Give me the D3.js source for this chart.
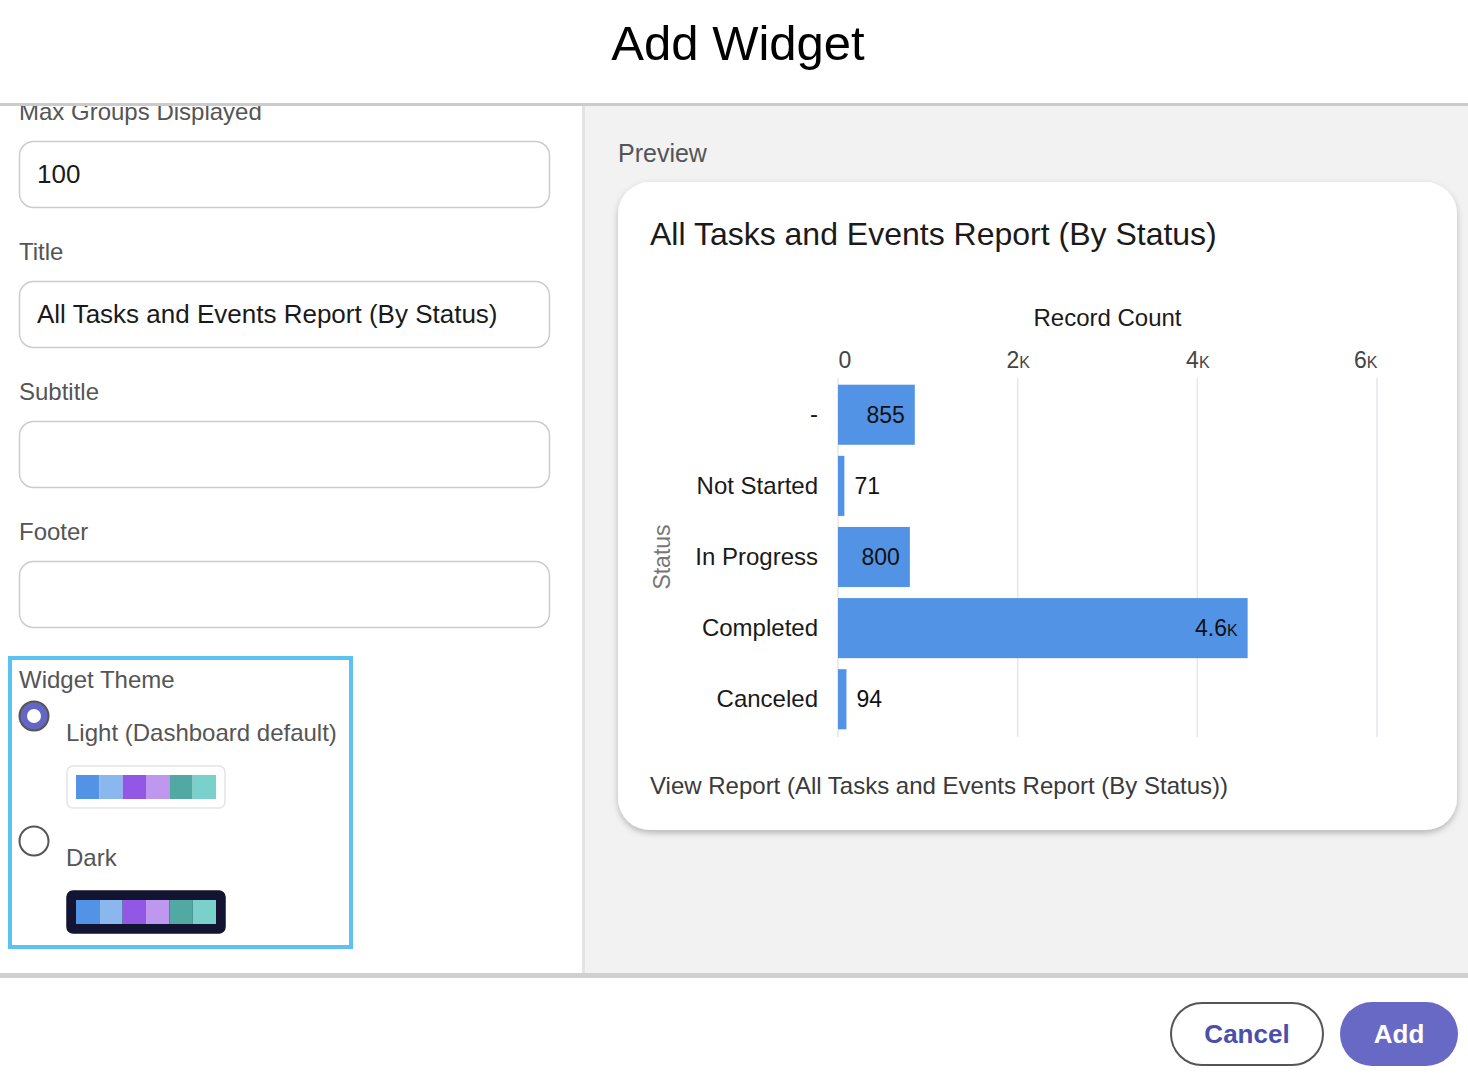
<!DOCTYPE html>
<html>
<head>
<meta charset="utf-8">
<script src="https://cdn.jsdelivr.net/npm/d3@7"></script>
<style>
	html, body { margin: 0; padding: 0; background: #fff; overflow: hidden; }
	svg { display: block; font-family: "Liberation Sans", Arial, Helvetica, sans-serif; }
</style>
</head>
<body>
<div id="root"></div>
<script>
// chart data
const statuses = ["-", "Not Started", "In Progress", "Completed", "Canceled"];
const recordCounts = [855, 71, 800, 4560, 94];
const barLabels = ["855", "71", "800", "4.6k", "94"];
const countTicks = [0, 2000, 4000, 6000];
const tickLabels = ["0", "2k", "4k", "6k"];

// form bits
const formFields = ["Title", "Subtitle", "Footer"];
const formValues = ["All Tasks and Events Report (By Status)", "", ""];
const themeNames = ["Light (Dashboard default)", "Dark"];
const paletteColors = ["#5293e6", "#89b7ee", "#9357e6", "#bf97ef", "#52a9a3", "#7ad1cb"];

const W = 1468, H = 1084;

const svg = d3.select("#root").append("svg")
	.attr("width", W)
	.attr("height", H);

const defs = svg.append("defs");
const shadow = defs.append("filter").attr("id", "cardShadow")
	.attr("x", "-5%").attr("y", "-5%").attr("width", "110%").attr("height", "115%");
shadow.append("feDropShadow")
	.attr("dx", 0).attr("dy", 3).attr("stdDeviation", 3)
	.attr("flood-color", "#000").attr("flood-opacity", 0.25);

// right panel background
svg.append("rect").attr("x", 584).attr("y", 104).attr("width", W - 584).attr("height", 870).attr("fill", "#f2f2f2");
// vertical divider
svg.append("rect").attr("x", 582).attr("y", 104).attr("width", 3).attr("height", 870).attr("fill", "#e3e3e3");

// ---------- left form ----------
const left = svg.append("g");

left.append("text").attr("x", 19).attr("y", 120)
	.attr("font-size", 24).attr("fill", "#555").text("Max Groups Displayed");

function inputBox(y, value) {
	left.append("rect")
		.attr("x", 19.5).attr("y", y + 0.5).attr("width", 530).attr("height", 66)
		.attr("rx", 14).attr("fill", "#fff").attr("stroke", "#cccccc").attr("stroke-width", 1.5);
	if (value) {
		left.append("text").attr("x", 37).attr("y", y + 42)
			.attr("font-size", 26).attr("fill", "#1a1a1a").text(value);
	}
}

inputBox(141, "100");

formFields.forEach((label, i) => {
	const y0 = 240 + i * 140;
	left.append("text").attr("x", 19).attr("y", y0 + 20)
		.attr("font-size", 24).attr("fill", "#555").text(label);
	inputBox(y0 + 41, formValues[i]);
});

// widget theme block
left.append("rect")
	.attr("x", 10).attr("y", 658).attr("width", 341).attr("height", 289)
	.attr("fill", "none").attr("stroke", "#5bc2f2").attr("stroke-width", 4);
left.append("text").attr("x", 19).attr("y", 688)
	.attr("font-size", 24).attr("fill", "#555").text("Widget Theme");

themeNames.forEach((name, i) => {
	const y0 = 716 + i * 125;
	const selected = i === 0;
	left.append("circle").attr("cx", 34).attr("cy", y0).attr("r", 14.5)
		.attr("fill", selected ? "#6466c4" : "#fff")
		.attr("stroke", "#555").attr("stroke-width", 2);
	if (selected) {
		left.append("circle").attr("cx", 34).attr("cy", y0).attr("r", 7).attr("fill", "#fff");
	}
	left.append("text").attr("x", 66).attr("y", y0 + 25)
		.attr("font-size", 24).attr("fill", "#555").text(name);

	const by = y0 + 50;
	left.append("rect")
		.attr("x", 67).attr("y", by).attr("width", 158).attr("height", 42).attr("rx", 6)
		.attr("fill", selected ? "#fff" : "#131332")
		.attr("stroke", selected ? "#e4e4e4" : "#131332").attr("stroke-width", 1.5);
	const sw = d3.scaleBand().domain(d3.range(paletteColors.length)).range([76, 216]);
	left.append("g").selectAll("rect").data(paletteColors).join("rect")
		.attr("x", (d, j) => sw(j)).attr("y", by + 9)
		.attr("width", sw.bandwidth()).attr("height", 24)
		.attr("fill", d => d);
});

// ---------- header ----------
svg.append("rect").attr("x", 0).attr("y", 0).attr("width", W).attr("height", 104).attr("fill", "#fff");
svg.append("rect").attr("x", 0).attr("y", 103).attr("width", W).attr("height", 3).attr("fill", "#cbcbcb");
svg.append("text").attr("x", 738).attr("y", 60).attr("text-anchor", "middle")
	.attr("font-size", 49).attr("fill", "#000").text("Add Widget");

// ---------- preview card ----------
svg.append("text").attr("x", 618).attr("y", 162)
	.attr("font-size", 25).attr("fill", "#555").text("Preview");

svg.append("rect")
	.attr("x", 618).attr("y", 182).attr("width", 839).attr("height", 648).attr("rx", 32)
	.attr("fill", "#fff").attr("filter", "url(#cardShadow)");

svg.append("text").attr("x", 650).attr("y", 245)
	.attr("font-size", 32).attr("fill", "#1a1a1a").text("All Tasks and Events Report (By Status)");

svg.append("text").attr("x", 650).attr("y", 794)
	.attr("font-size", 24).attr("fill", "#3a3a3a").text("View Report (All Tasks and Events Report (By Status))");

// chart
const x = d3.scaleLinear().domain([0, 6000]).range([838, 1377]);
const y = d3.scaleBand().domain(statuses).range([379, 735]).paddingInner(0.155).paddingOuter(0.08);

const chart = svg.append("g");

chart.append("g").selectAll("line").data(countTicks).join("line")
	.attr("x1", d => x(d)).attr("x2", d => x(d))
	.attr("y1", 378).attr("y2", 737)
	.attr("stroke", "#e3e6ea").attr("stroke-width", 1.5);

const xAxis = d3.axisTop(x).tickValues(countTicks).tickFormat((d, i) => tickLabels[i]).tickSize(0).tickPadding(0);
const xg = chart.append("g").attr("transform", "translate(0,368)").call(xAxis);
xg.select(".domain").remove();
xg.selectAll("text")
	.attr("font-size", 23).attr("fill", "#444").attr("font-family", "Liberation Sans, Arial, sans-serif")
	.style("font-variant", "small-caps")
	.attr("text-anchor", (d, i) => i === 0 ? "start" : (i === countTicks.length - 1 ? "end" : "middle"));

chart.append("text").attr("x", (x(0) + x(6000)) / 2).attr("y", 326).attr("text-anchor", "middle")
	.attr("font-size", 24).attr("fill", "#1a1a1a").text("Record Count");

const yAxis = d3.axisLeft(y).tickSize(0).tickPadding(20);
const yg = chart.append("g").attr("transform", "translate(838,0)").call(yAxis);
yg.select(".domain").remove();
yg.selectAll("text")
	.attr("font-size", 24).attr("fill", "#1a1a1a").attr("font-family", "Liberation Sans, Arial, sans-serif");

chart.append("text")
	.attr("transform", "translate(670,557) rotate(-90)")
	.attr("text-anchor", "middle")
	.attr("font-size", 23).attr("fill", "#777").text("Status");

const bars = statuses.map((s, i) => ({ status: s, value: recordCounts[i], label: barLabels[i] }));

chart.append("g").selectAll("rect").data(bars).join("rect")
	.attr("x", x(0))
	.attr("y", d => y(d.status))
	.attr("width", d => x(d.value) - x(0))
	.attr("height", y.bandwidth())
	.attr("fill", "#5293e6");

chart.append("g").selectAll("text").data(bars).join("text")
	.attr("x", d => (x(d.value) - x(0)) > 60 ? x(d.value) - 10 : x(d.value) + 10)
	.attr("y", d => y(d.status) + y.bandwidth() / 2 + 8)
	.attr("text-anchor", d => (x(d.value) - x(0)) > 60 ? "end" : "start")
	.attr("font-size", 23).attr("fill", "#111")
	.style("font-variant", "small-caps")
	.text(d => d.label);

// ---------- footer ----------
svg.append("rect").attr("x", 0).attr("y", 973).attr("width", W).attr("height", 5).attr("fill", "#d0d0d0");
svg.append("rect").attr("x", 0).attr("y", 978).attr("width", W).attr("height", H - 978).attr("fill", "#fff");

svg.append("rect")
	.attr("x", 1171).attr("y", 1003).attr("width", 152).attr("height", 62).attr("rx", 31)
	.attr("fill", "#fff").attr("stroke", "#555").attr("stroke-width", 2);
svg.append("text").attr("x", 1247).attr("y", 1043).attr("text-anchor", "middle")
	.attr("font-size", 26).attr("font-weight", "bold").attr("fill", "#4a4fae").text("Cancel");

svg.append("rect")
	.attr("x", 1340).attr("y", 1002).attr("width", 118).attr("height", 64).attr("rx", 32)
	.attr("fill", "#6769c4");
svg.append("text").attr("x", 1399).attr("y", 1043).attr("text-anchor", "middle")
	.attr("font-size", 26).attr("font-weight", "bold").attr("fill", "#fff").text("Add");
</script>
</body>
</html>
